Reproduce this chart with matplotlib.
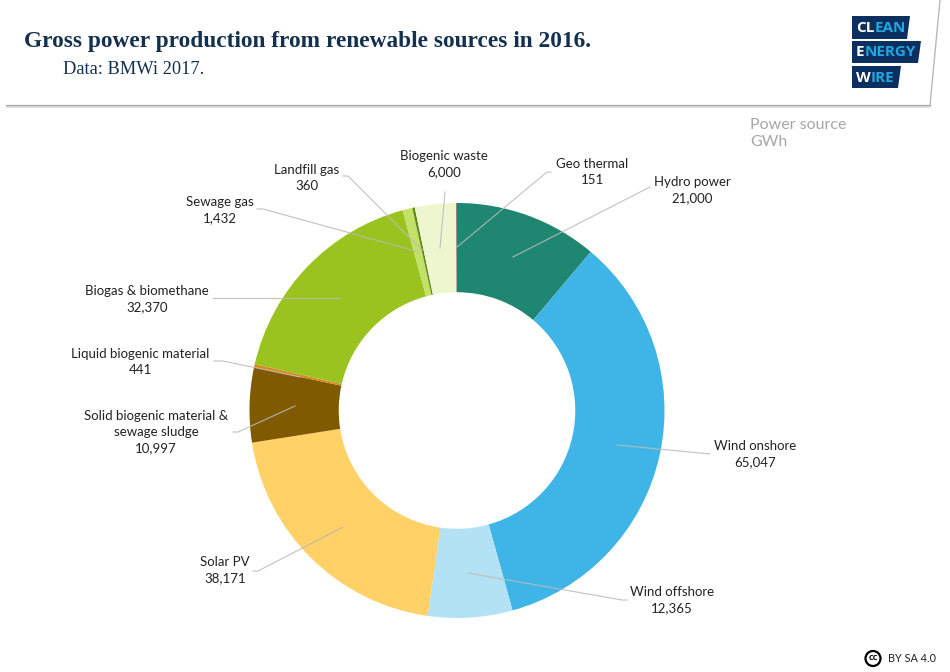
import matplotlib
matplotlib.use('Agg')
import matplotlib.pyplot as plt
from matplotlib.patches import Polygon, Circle

sources = ['Hydro power', 'Wind onshore', 'Wind offshore', 'Solar PV',
           'Solid biogenic material &\nsewage sludge', 'Liquid biogenic material',
           'Biogas & biomethane', 'Sewage gas', 'Landfill gas',
           'Biogenic waste', 'Geo thermal']
gwh = [21000, 65047, 12365, 38171, 10997, 441, 32370, 1432, 360, 6000, 151]
colors = ['#1f8672', '#3fb4e6', '#b3e2f5', '#ffd166', '#7f5a00', '#d98a1f',
          '#9bc31f', '#c3e069', '#5f8a14', '#eef6d0', '#8a8a7a']

# label centre and leader line for every slice, in picture pixels
label_xy = [(692, 190.5), (755, 454.5), (672, 600), (225, 570), (156, 432), (140, 362),
            (147, 299), (220, 210), (307, 178), (444, 164), (592, 172)]
leaders = [[(650, 187), (513, 257)], [(710, 454), (617, 445)], [(627, 600), (622, 600), (468, 573)],
           [(253, 571), (258, 571), (343, 527)], [(233, 432), (238, 432), (295, 406)],
           [(214, 361), (223, 361), (300, 377)], [(213, 298), (340, 298)],
           [(257, 209), (263, 209), (419, 252)], [(343, 176), (348, 176), (422, 250)],
           [(445, 192), (440, 248)], [(551, 172), (547, 172), (457, 247)]]

navy = '#14304f'
W, H = 950, 672

plt.rcParams['font.family'] = ['Lato', 'DejaVu Sans']
fig = plt.figure(figsize=(W / 100, H / 100), dpi=100, facecolor='white')

# pixel overlay
ax = fig.add_axes([0, 0, 1, 1], zorder=3)
ax.set_xlim(0, W)
ax.set_ylim(H, 0)
ax.axis('off')

# donut
cx, cy, r = 457, 410.5, 207.5
pie_ax = fig.add_axes([(cx - r) / W, 1 - (cy + r) / H, 2 * r / W, 2 * r / H], zorder=2)
pie_ax.pie(gwh, colors=colors, startangle=90, counterclock=False, radius=1,
           wedgeprops=dict(width=0.43, linewidth=0))
pie_ax.set_xlim(-1, 1)
pie_ax.set_ylim(-1, 1)

# header card
ax.plot([7, 930], [105.5, 105.5], color='#a8a8a8', lw=1.6)
ax.plot([930, 940], [105.5, 0], color='#b8b8b8', lw=1)
ax.plot([7, 930], [107, 107], color='#dddddd', lw=1.2)
ax.text(24, 42, 'Gross power production from renewable sources in 2016.', family='Liberation Serif',
        fontweight='bold', fontsize=16.8, color=navy, va='center')
ax.text(63, 70, 'Data: BMWi 2017.', family='Liberation Serif', fontsize=13.2, color=navy, va='center')
ax.text(750, 125, 'Power source', fontsize=11.5, color='#a6a6a6', va='center')
ax.text(750, 142, 'GWh', fontsize=11.5, color='#a6a6a6', va='center')

# logo
logo = [('CL', 'EAN', 852, 910, 16, 39), ('E', 'NERGY', 852, 921, 41, 63), ('W', 'IRE', 852, 901, 66, 88)]
for white, blue, x0, x1, y0, y1 in logo:
    ax.add_patch(Polygon([(x0, y0), (x1, y0), (x1 - 3, y1), (x0, y1)], color='#0b2f5f', lw=0))
    t = ax.text(x0 + 4, (y0 + y1) / 2 + 0.5, white, family='Open Sans', fontweight='bold', fontsize=11,
                color='white', va='center')
    ax.annotate(blue, xycoords=t, xy=(1, 0.5), va='center', family='Open Sans', fontweight='bold',
                fontsize=11, color='#22a7e0')

# leaders and labels
for line in leaders:
    ax.plot([p[0] for p in line], [p[1] for p in line], color='#bbbbbb', lw=0.8, alpha=0.9)
for name, val, (x, y) in zip(sources, gwh, label_xy):
    ax.text(x, y, name + '\n' + format(val, ','), ha='center', va='center', fontsize=9.5,
            color='#222222', linespacing=1.42)

# licence mark
ax.add_patch(Circle((873, 658.5), 7.5, fill=False, ec='black', lw=1.6))
ax.text(873, 658, 'cc', ha='center', va='center', fontsize=7, fontweight='bold', color='black')
ax.text(888, 659, 'BY SA 4.0', va='center', fontsize=7.8, color='#222222')

fig.savefig('out.png', dpi=100, facecolor='white')
